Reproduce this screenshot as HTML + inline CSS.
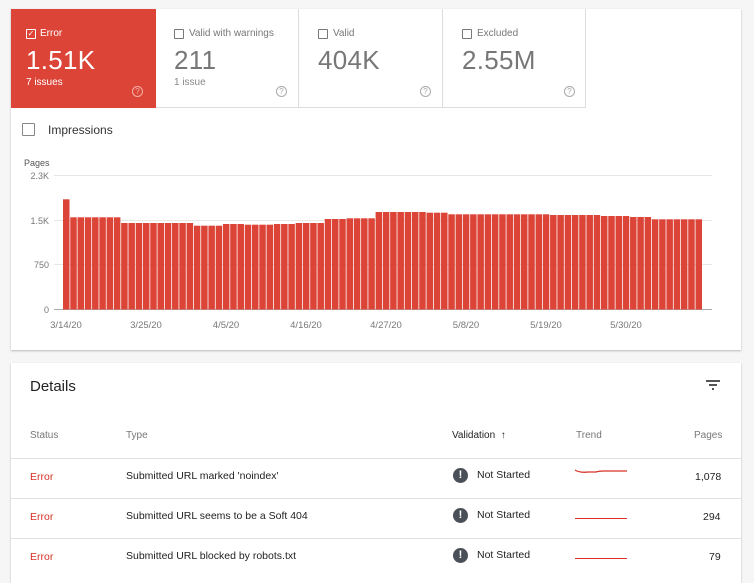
<!DOCTYPE html>
<html><head><meta charset="utf-8"><style>
*{margin:0;padding:0;box-sizing:border-box}
body{width:754px;height:567px;background:#f6f6f6;font-family:"Liberation Sans",sans-serif;position:relative;overflow:hidden}
.card{position:absolute;background:#fff;box-shadow:0 1px 2px rgba(0,0,0,.25)}
.a{position:absolute;white-space:nowrap}
.cb{position:absolute;width:10px;height:10px;border:1.3px solid #777;border-radius:1px}
.tile{position:absolute;top:9px;height:99px;border-right:1px solid #ddd;border-bottom:1px solid #ddd}
.q{position:absolute;width:11px;height:11px;border:1px solid #aaa;border-radius:50%;font-size:8px;color:#aaa;text-align:center;line-height:9px}
.h{font-size:10px;color:#777}
.row{font-size:10.5px;color:#222}
.err{font-size:10.5px;color:#d93025}
.ex{position:absolute;width:15px;height:15px;border-radius:50%;background:#4a5058;color:#fff;font-size:11px;font-weight:bold;text-align:center;line-height:15px}
.big{font-size:26px;letter-spacing:0.3px}
</style></head><body>
<div class="card" style="left:11px;top:9px;width:730px;height:341px"></div>
<div class="tile" style="left:11px;width:145px;background:#db4437;border:none"></div>
<div class="tile" style="left:156px;width:143px;background:#fff"></div>
<div class="tile" style="left:299px;width:144px;background:#fff"></div>
<div class="tile" style="left:443px;width:143px;background:#fff"></div>
<div class="cb" style="left:26px;top:29px;border-color:#fff;color:#fff;font-size:8px;line-height:7px;text-align:center">✓</div>
<div class="a" style="left:40px;top:28px;font-size:10px;color:#fff">Error</div>
<div class="a big" style="left:26px;top:45px;color:#fff">1.51K</div>
<div class="a" style="left:26px;top:77px;font-size:10px;color:#fff">7 issues</div>
<div class="q" style="left:132px;top:86px;border-color:#f3b0a8;color:#f3b0a8">?</div>
<div class="cb" style="left:174px;top:29px"></div>
<div class="a" style="left:189px;top:28px;font-size:10px;color:#777">Valid with warnings</div>
<div class="a big" style="left:174px;top:45px;color:#777">211</div>
<div class="a" style="left:174px;top:77px;font-size:10px;color:#888">1 issue</div>
<div class="q" style="left:276px;top:86px">?</div>
<div class="cb" style="left:318px;top:29px"></div>
<div class="a" style="left:333px;top:28px;font-size:10px;color:#777">Valid</div>
<div class="a big" style="left:318px;top:45px;color:#777">404K</div>
<div class="q" style="left:420px;top:86px">?</div>
<div class="cb" style="left:462px;top:29px"></div>
<div class="a" style="left:477px;top:28px;font-size:10px;color:#777">Excluded</div>
<div class="a big" style="left:462px;top:45px;color:#777">2.55M</div>
<div class="q" style="left:564px;top:86px">?</div>
<div class="cb" style="left:22px;top:123px;width:13px;height:13px;border-color:#888"></div>
<div class="a" style="left:48px;top:123px;font-size:12px;color:#333">Impressions</div>
<svg class="a" style="left:0;top:0" width="754" height="350">
<text x="24" y="166" font-size="9" fill="#555" font-family="Liberation Sans">Pages</text>
<g font-size="9" fill="#777" font-family="Liberation Sans" text-anchor="end">
<text x="49" y="179">2.3K</text><text x="49" y="224">1.5K</text><text x="49" y="268">750</text><text x="49" y="313">0</text></g>
<g stroke="#e6e6e6"><line x1="54" x2="712" y1="175.5" y2="175.5"/><line x1="54" x2="712" y1="220.5" y2="220.5"/><line x1="54" x2="712" y1="264.5" y2="264.5"/></g>
<line x1="54" x2="712" y1="309.5" y2="309.5" stroke="#aaa"/>
<g id="bars" fill="#db4437"></g>
<g font-size="9.5" fill="#777" font-family="Liberation Sans" text-anchor="middle">
<text x="66" y="328">3/14/20</text><text x="146" y="328">3/25/20</text><text x="226" y="328">4/5/20</text><text x="306" y="328">4/16/20</text><text x="386" y="328">4/27/20</text><text x="466" y="328">5/8/20</text><text x="546" y="328">5/19/20</text><text x="626" y="328">5/30/20</text></g>
</svg>
<div class="card" style="left:11px;top:363px;width:730px;height:220px"></div>
<div class="a" style="left:30px;top:378px;font-size:15px;color:#222">Details</div>
<div class="a" style="left:706px;top:380px;width:14px;height:2px;background:#555"></div>
<div class="a" style="left:709px;top:384px;width:8px;height:2px;background:#555"></div>
<div class="a" style="left:712px;top:388px;width:2px;height:2px;background:#555"></div>
<div class="a h" style="left:30px;top:430px">Status</div>
<div class="a h" style="left:126px;top:430px">Type</div>
<div class="a" style="left:452px;top:430px;font-size:10px;color:#222">Validation &nbsp;↑</div>
<div class="a h" style="left:576px;top:430px">Trend</div>
<div class="a h" style="left:694px;top:430px">Pages</div>
<div class="a" style="left:11px;top:458px;width:730px;height:1px;background:#e0e0e0"></div>
<div class="a" style="left:11px;top:498px;width:730px;height:1px;background:#e0e0e0"></div>
<div class="a" style="left:11px;top:538px;width:730px;height:1px;background:#e0e0e0"></div>
<div class="a err" style="left:30px;top:471px">Error</div>
<div class="a row" style="left:126px;top:470px">Submitted URL marked 'noindex'</div>
<div class="ex" style="left:453px;top:468px">!</div>
<div class="a row" style="left:477px;top:469px">Not Started</div>
<svg class="a" style="left:574px;top:468px" width="56" height="10"><path d="M1 2 Q6 5 14 4 L22 4 Q25 3 30 3 L53 3" stroke="#d93025" fill="none" stroke-width="1.2"/></svg>
<div class="a row" style="left:695px;top:471px">1,078</div>
<div class="a err" style="left:30px;top:511px">Error</div>
<div class="a row" style="left:126px;top:510px">Submitted URL seems to be a Soft 404</div>
<div class="ex" style="left:453px;top:508px">!</div>
<div class="a row" style="left:477px;top:509px">Not Started</div>
<div class="a" style="left:575px;top:518px;width:52px;height:1.3px;background:#d93025"></div>
<div class="a row" style="left:703px;top:511px">294</div>
<div class="a err" style="left:30px;top:551px">Error</div>
<div class="a row" style="left:126px;top:550px">Submitted URL blocked by robots.txt</div>
<div class="ex" style="left:453px;top:548px">!</div>
<div class="a row" style="left:477px;top:549px">Not Started</div>
<div class="a" style="left:575px;top:558px;width:52px;height:1.3px;background:#d93025"></div>
<div class="a row" style="left:709px;top:551px">79</div>
<script>
var segs=[[0,0,118],[1,7,172],[8,17,189],[18,21,197],[22,24,192],[25,28,194],[29,31,192],[32,35,189],[36,38,177],[39,42,175],[43,49,156],[50,52,158],[53,66,163],[67,73,165],[74,77,168],[78,80,171],[81,87,178]];
var g=document.getElementById('bars'),s='';
segs.forEach(function(a){var top=160+a[2]/3;for(var i=a[0];i<=a[1];i++){var x=63+i*7.27;s+='<rect x="'+x.toFixed(2)+'" y="'+top.toFixed(1)+'" width="6.5" height="'+(309.5-top).toFixed(1)+'"/>';}});
g.innerHTML=s;
</script>
</body></html>
